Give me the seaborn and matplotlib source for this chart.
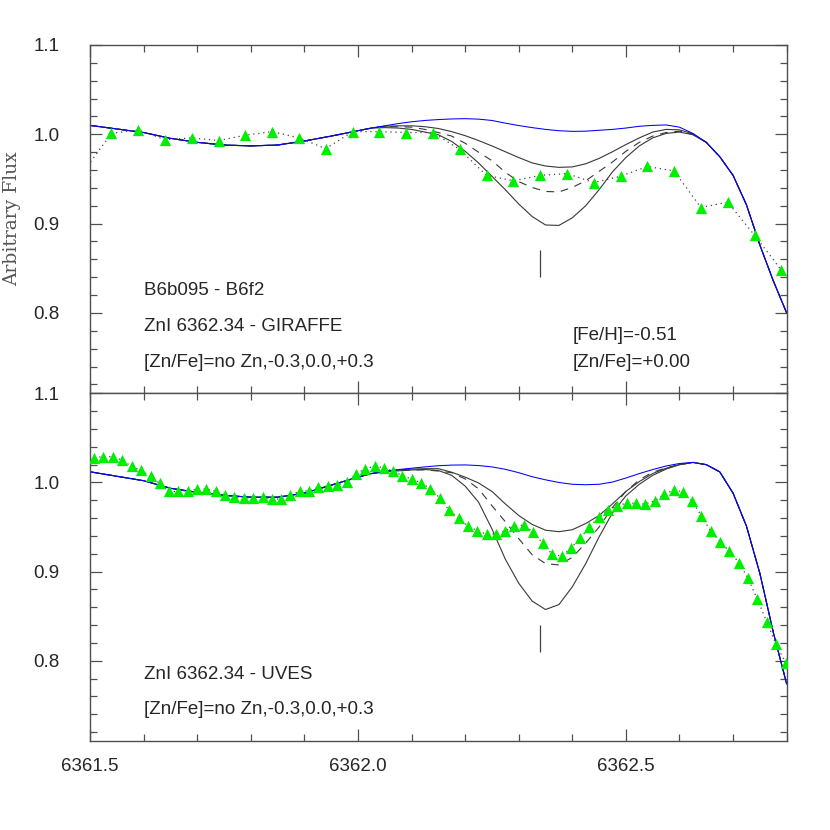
import matplotlib
matplotlib.use("Agg")
import matplotlib.pyplot as plt
from matplotlib.ticker import FixedLocator, MultipleLocator, FormatStrFormatter
import seaborn as sns

# wavelength grid of the synthetic spectra
grid_wl = [6361.50, 6361.55, 6361.60, 6361.65, 6361.70, 6361.75, 6361.80, 6361.85,
           6361.90, 6361.95, 6362.00, 6362.025, 6362.05, 6362.075, 6362.10, 6362.125,
           6362.15, 6362.175, 6362.20, 6362.225, 6362.25, 6362.275, 6362.30, 6362.325,
           6362.35, 6362.375, 6362.40, 6362.425, 6362.45, 6362.475, 6362.50, 6362.525,
           6362.55, 6362.575, 6362.60, 6362.625, 6362.65, 6362.675, 6362.70, 6362.725,
           6362.75, 6362.775, 6362.80]

# GIRAFFE panel: synthetic spectra
gir_nozn = [1.010, 1.006, 1.002, 0.9955, 0.991, 0.988, 0.987, 0.988, 0.9925, 0.998, 1.004,
            1.007, 1.0095, 1.012, 1.014, 1.0155, 1.0165, 1.0172, 1.0175, 1.017, 1.0155,
            1.0125, 1.0098, 1.0075, 1.0055, 1.004, 1.0033, 1.0035, 1.0045, 1.0055, 1.007,
            1.009, 1.010, 1.0105, 1.008, 1.001, 0.991, 0.975, 0.954, 0.921, 0.876, 0.836, 0.800]
gir_m03 = [1.010, 1.006, 1.002, 0.9955, 0.991, 0.988, 0.987, 0.988, 0.9925, 0.998, 1.004,
           1.007, 1.009, 1.0095, 1.0095, 1.0085, 1.0065, 1.003, 0.9985, 0.993, 0.987,
           0.9805, 0.974, 0.968, 0.9645, 0.963, 0.9635, 0.967, 0.973, 0.9805, 0.9885,
           0.996, 1.0025, 1.0055, 1.005, 1.0005, 0.991, 0.975, 0.954, 0.921, 0.876, 0.836, 0.800]
gir_p00 = [1.010, 1.006, 1.002, 0.9955, 0.991, 0.988, 0.987, 0.988, 0.9925, 0.998, 1.004,
           1.007, 1.0085, 1.0085, 1.008, 1.0055, 1.002, 0.998, 0.990, 0.980, 0.9705,
           0.9575, 0.947, 0.9405, 0.936, 0.9355, 0.9405, 0.948, 0.9585, 0.969, 0.981,
           0.991, 0.998, 1.002, 1.0035, 1.000, 0.991, 0.975, 0.954, 0.921, 0.876, 0.836, 0.800]
gir_p03 = [1.010, 1.006, 1.002, 0.9955, 0.991, 0.988, 0.987, 0.988, 0.9925, 0.998, 1.004,
           1.007, 1.0075, 1.007, 1.0055, 1.0025, 0.9995, 0.992, 0.981, 0.968, 0.953,
           0.938, 0.922, 0.908, 0.8985, 0.898, 0.9065, 0.920, 0.938, 0.958, 0.974,
           0.987, 0.996, 1.001, 1.0025, 0.9995, 0.991, 0.975, 0.954, 0.921, 0.876, 0.836, 0.800]

# GIRAFFE panel: observed spectrum
gir_obs_wl = [6361.49, 6361.54, 6361.59, 6361.64, 6361.69, 6361.74, 6361.79, 6361.84, 6361.89,
              6361.94, 6361.99, 6362.04, 6362.09, 6362.14, 6362.19, 6362.24, 6362.29, 6362.34,
              6362.39, 6362.44, 6362.49, 6362.54, 6362.59, 6362.64, 6362.69, 6362.74, 6362.79]
gir_obs_flux = [0.960, 1.001, 1.005, 0.994, 0.996, 0.993, 0.999, 1.003, 0.996,
                0.984, 1.003, 1.003, 1.002, 1.002, 0.983, 0.954, 0.948, 0.954,
                0.956, 0.946, 0.953, 0.964, 0.959, 0.918, 0.924, 0.887, 0.848]

# UVES panel: synthetic spectra
uves_nozn = [1.012, 1.007, 1.002, 0.9935, 0.989, 0.9855, 0.9835, 0.9835, 0.988, 0.997, 1.006,
             1.010, 1.0125, 1.0145, 1.016, 1.0175, 1.0188, 1.0195, 1.0197, 1.019, 1.0175,
             1.0148, 1.011, 1.0065, 1.003, 1.000, 0.998, 0.9975, 0.998, 1.0005, 1.005,
             1.010, 1.0145, 1.0185, 1.0213, 1.0225, 1.020, 1.012, 0.988, 0.951, 0.898, 0.832, 0.774]
uves_m03 = [1.012, 1.007, 1.002, 0.9935, 0.989, 0.9855, 0.9835, 0.9835, 0.988, 0.997, 1.006,
            1.010, 1.0125, 1.014, 1.015, 1.0155, 1.0155, 1.0115, 1.006, 0.9995, 0.990,
            0.976, 0.963, 0.953, 0.9465, 0.9448, 0.947, 0.954, 0.963, 0.976, 0.990,
            1.001, 1.010, 1.016, 1.020, 1.0225, 1.020, 1.012, 0.988, 0.951, 0.898, 0.832, 0.774]
uves_p00 = [1.012, 1.007, 1.002, 0.9935, 0.989, 0.9855, 0.9835, 0.9835, 0.988, 0.997, 1.006,
            1.010, 1.012, 1.0135, 1.014, 1.0142, 1.0128, 1.011, 1.004, 0.993, 0.974,
            0.956, 0.937, 0.919, 0.909, 0.9075, 0.916, 0.932, 0.950, 0.972, 0.990,
            1.003, 1.0115, 1.0165, 1.020, 1.0225, 1.020, 1.012, 0.988, 0.951, 0.898, 0.832, 0.774]
uves_p03 = [1.012, 1.007, 1.002, 0.9935, 0.989, 0.9855, 0.9835, 0.9835, 0.988, 0.997, 1.006,
            1.010, 1.012, 1.013, 1.014, 1.0145, 1.0135, 1.008, 0.996, 0.978, 0.948,
            0.914, 0.887, 0.867, 0.8575, 0.863, 0.883, 0.909, 0.939, 0.966, 0.985,
            0.998, 1.008, 1.015, 1.020, 1.0225, 1.020, 1.012, 0.988, 0.951, 0.898, 0.832, 0.774]

# UVES panel: observed spectrum
uves_obs_wl = [6361.508, 6361.525, 6361.543, 6361.560, 6361.578, 6361.595, 6361.613, 6361.630,
               6361.647, 6361.665, 6361.682, 6361.700, 6361.717, 6361.735, 6361.752, 6361.769,
               6361.787, 6361.804, 6361.822, 6361.839, 6361.857, 6361.874, 6361.891, 6361.909,
               6361.926, 6361.944, 6361.961, 6361.979, 6361.996, 6362.013, 6362.031, 6362.048,
               6362.066, 6362.083, 6362.101, 6362.118, 6362.135, 6362.153, 6362.170, 6362.188,
               6362.205, 6362.223, 6362.240, 6362.257, 6362.275, 6362.292, 6362.310, 6362.327,
               6362.345, 6362.362, 6362.380, 6362.397, 6362.414, 6362.432, 6362.449, 6362.467,
               6362.484, 6362.502, 6362.519, 6362.536, 6362.554, 6362.571, 6362.589, 6362.606,
               6362.624, 6362.641, 6362.658, 6362.676, 6362.693, 6362.711, 6362.728, 6362.745,
               6362.763, 6362.780, 6362.798]
uves_obs_flux = [1.028, 1.029, 1.029, 1.025, 1.018, 1.0135, 1.007, 0.999,
                 0.990, 0.990, 0.991, 0.9925, 0.993, 0.990, 0.986, 0.9835,
                 0.9827, 0.983, 0.984, 0.9814, 0.9815, 0.986, 0.990, 0.991,
                 0.9945, 0.996, 0.997, 1.001, 1.009, 1.0155, 1.018, 1.0167,
                 1.0125, 1.0078, 1.0036, 0.9997, 0.993, 0.9822, 0.969, 0.9597,
                 0.9514, 0.9458, 0.9421, 0.9421, 0.9458, 0.9514, 0.9522, 0.9447,
                 0.9316, 0.9196, 0.9174, 0.926, 0.9373, 0.9496, 0.9615, 0.969,
                 0.9735, 0.9772, 0.9765, 0.9758, 0.9795, 0.9866, 0.9915, 0.9896,
                 0.9791, 0.9623, 0.9458, 0.9335, 0.923, 0.9099, 0.8924, 0.8691,
                 0.8437, 0.8186, 0.7977]

# Zn I line position and the little marker under it
zn_line_wl = 6362.34
gir_mark = (0.84, 0.87)
uves_mark = (0.81, 0.84)

sns.set_style("ticks")
plt.rcParams["font.family"] = ["Liberation Sans", "DejaVu Sans"]
plt.rcParams["xtick.direction"] = "in"
plt.rcParams["ytick.direction"] = "in"

frame = "#505050"
curve = "#383838"

fig = plt.figure(figsize=(8.3, 8.3), dpi=100)
ax_top = fig.add_axes([0.1084, 0.5261, 0.8394, 0.4197])
ax_bot = fig.add_axes([0.1084, 0.1072, 0.8394, 0.4189])


def draw_panel(ax, nozn, m03, p00, p03, obs_wl, obs_flux, mark):
    sns.lineplot(x=grid_wl, y=m03, ax=ax, color=curve, lw=0.8, estimator=None, sort=False)
    sns.lineplot(x=grid_wl, y=p00, ax=ax, color=curve, lw=0.8, estimator=None, sort=False,
                 linestyle=(0, (7, 6)))
    sns.lineplot(x=grid_wl, y=p03, ax=ax, color=curve, lw=0.8, estimator=None, sort=False)
    sns.lineplot(x=grid_wl, y=nozn, ax=ax, color="#0000ff", lw=0.75, estimator=None, sort=False)
    sns.lineplot(x=obs_wl, y=obs_flux, ax=ax, color="#444444", lw=0.9, estimator=None,
                 sort=False, linestyle=(0, (1, 3)))
    sns.scatterplot(x=obs_wl, y=obs_flux, ax=ax, marker="^", s=66, color="#00ee00",
                    linewidth=0, zorder=5)
    ax.vlines(zn_line_wl, mark[0], mark[1], color="#444444", lw=0.9)

    ax.set_xlim(6361.5, 6362.8)
    ax.set_ylim(0.71, 1.1)
    ax.xaxis.set_major_locator(MultipleLocator(0.5))
    ax.xaxis.set_minor_locator(MultipleLocator(0.1))
    ax.xaxis.set_major_formatter(FormatStrFormatter("%.1f"))
    ax.yaxis.set_major_locator(FixedLocator([0.8, 0.9, 1.0, 1.1]))
    ax.yaxis.set_minor_locator(MultipleLocator(0.02))
    ax.yaxis.set_major_formatter(FormatStrFormatter("%.1f"))
    ax.tick_params(which="both", top=True, right=True, color=frame, width=0.9)
    ax.tick_params(which="major", length=8.5, labelsize=13.5)
    ax.tick_params(which="minor", length=4.8)
    ax.tick_params(axis="y", pad=22)
    ax.tick_params(axis="x", pad=12)
    for sp in ax.spines.values():
        sp.set_color(frame)
        sp.set_linewidth(1.0)
    ax.set_xlabel("")
    ax.set_ylabel("")


draw_panel(ax_top, gir_nozn, gir_m03, gir_p00, gir_p03, gir_obs_wl, gir_obs_flux, gir_mark)
draw_panel(ax_bot, uves_nozn, uves_m03, uves_p00, uves_p03, uves_obs_wl, uves_obs_flux, uves_mark)
ax_top.tick_params(axis="x", labelbottom=False)

txt = dict(fontsize=13.5, va="baseline", ha="left")
ax_top.text(6361.6, 0.82, "B6b095 - B6f2", **txt)
ax_top.text(6361.6, 0.78, "ZnI 6362.34 - GIRAFFE", **txt)
ax_top.text(6361.6, 0.74, "[Zn/Fe]=no Zn,-0.3,0.0,+0.3", **txt)
ax_top.text(6362.4, 0.77, "[Fe/H]=-0.51", **txt)
ax_top.text(6362.4, 0.74, "[Zn/Fe]=+0.00", **txt)
ax_bot.text(6361.6, 0.78, "ZnI 6362.34 - UVES", **txt)
ax_bot.text(6361.6, 0.74, "[Zn/Fe]=no Zn,-0.3,0.0,+0.3", **txt)

fig.text(12 / 830, 1 - 219 / 830, "Arbitrary Flux", rotation=90, ha="center", va="center",
         family="DejaVu Serif", fontsize=13.5, color="#555555")

fig.savefig("out.png", dpi=100)
